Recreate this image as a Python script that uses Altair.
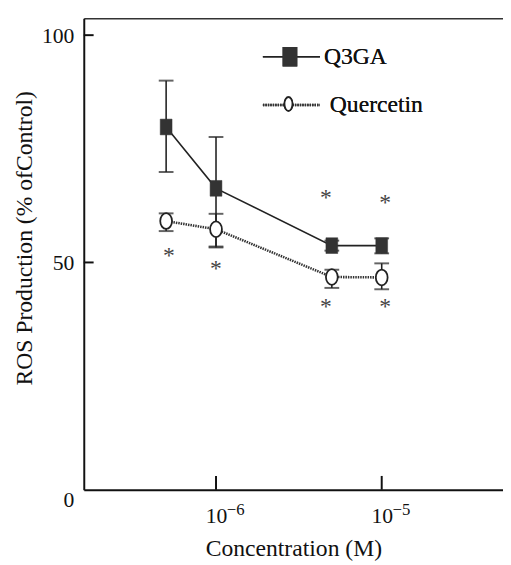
import altair as alt
import pandas as pd

# ---- data ----
series = ["Q3GA", "Quercetin"]
conc = [5e-7, 1e-6, 5e-6, 1e-5]
q3ga_mean = [79.8, 66.3, 53.7, 53.7]
q3ga_lo = [69.9, 53.3, 52.6, 52.0]
q3ga_hi = [90.0, 77.6, 54.8, 55.3]
quer_mean = [59.1, 57.3, 46.8, 46.7]
quer_lo = [56.9, 53.5, 44.4, 44.1]
quer_hi = [60.8, 60.7, 48.4, 49.8]
star_conc = [5.2e-7, 1.0e-6, 4.6e-6, 1.05e-5, 4.6e-6, 1.05e-5]
star_val = [52.8, 50.0, 41.6, 41.6, 65.6, 64.5]
x_ticks = [1e-6, 1e-5]
x_exps = ["\u22126", "\u22125"]
y_ticks = [0, 50, 100]

FONT = "Liberation Serif"
INK = "#222222"

q3 = pd.DataFrame({"conc": conc, "mean": q3ga_mean, "lo": q3ga_lo, "hi": q3ga_hi})
qu = pd.DataFrame({"conc": conc, "mean": quer_mean, "lo": quer_lo, "hi": quer_hi})
stars = pd.DataFrame({"conc": star_conc, "val": star_val})
xt = pd.DataFrame({"t": x_ticks, "e": x_exps})
yt = pd.DataFrame({"t": [v for v in y_ticks if v > 0]})

xscale = alt.Scale(type="log", domain=[1.592e-7, 5.395e-5], nice=False)
yscale = alt.Scale(domain=[0, 103.7], nice=False, zero=False)

yaxis = alt.Axis(
    values=y_ticks, ticks=False, grid=False, domainColor="#111", domainWidth=2,
    labelFont=FONT, labelFontSize=22, labelColor="#111", labelPadding=10,
    labelBaseline={"condition": {"test": "datum.value == 0", "value": "top"}, "value": "middle"},
    title="ROS Production (% ofControl)", titleFont=FONT, titleFontSize=24,
    titleFontWeight="normal", titleColor="#111", titleX=-60, titleY=223,
    titleAlign="center", titleBaseline="middle", titleAngle=270,
)
xaxis = alt.Axis(
    values=x_ticks, ticks=False, grid=False, domainColor="#111", domainWidth=2,
    labelExpr="'10'",
    labelFont=FONT, labelFontSize=22, labelColor="#111", labelPadding=16,
    labelAlign="center",
    title="Concentration (M)", titleFont=FONT, titleFontSize=24,
    titleFontWeight="normal", titleColor="#111", titleY=60, titleBaseline="middle",
)
topaxis = alt.Axis(orient="top", labels=False, ticks=False, grid=False, title=None,
                   domainColor="#333", domainWidth=1.5)


def X(field, axis=None):
    return alt.X(field, type="quantitative", scale=xscale, axis=axis)


def Y(field):
    return alt.Y(field, type="quantitative", scale=yscale, axis=yaxis)


rect_path = "M-0.75,-1H0.75V1H-0.75Z"
ell_path = "M0,-1A0.75,1 0 1,1 0,1A0.75,1 0 1,1 0,-1Z"
leg_rect_path = "M-0.72,-1H0.72V1H-0.72Z"
leg_ell_path = "M0,-1A0.58,1 0 1,1 0,1A0.58,1 0 1,1 0,-1Z"

layers = []
# frame: bottom axis + top border
layers.append(alt.Chart(q3).mark_point(opacity=0).encode(x=X("conc", xaxis), y=Y("mean")))
layers.append(alt.Chart(q3).mark_point(opacity=0).encode(x=X("conc", topaxis), y=Y("mean")))

for df in (q3, qu):
    layers.append(alt.Chart(df).mark_rule(color=INK, strokeWidth=1.6).encode(
        x=X("conc"), y=Y("lo"), y2="hi"))
    for f in ("lo", "hi"):
        layers.append(alt.Chart(df).mark_tick(color=INK, orient="horizontal", size=15,
                                              thickness=2).encode(x=X("conc"), y=Y(f)))

layers.append(alt.Chart(qu).mark_line(color="#333", strokeWidth=2.6, strokeDash=[1.5, 1]).encode(
    x=X("conc"), y=Y("mean")))
layers.append(alt.Chart(q3).mark_line(color=INK, strokeWidth=1.6).encode(
    x=X("conc"), y=Y("mean")))
layers.append(alt.Chart(q3).mark_point(shape=rect_path, size=256, filled=True, fill="#333",
                                       stroke="#333", strokeWidth=0.5, opacity=1).encode(
    x=X("conc"), y=Y("mean")))
layers.append(alt.Chart(qu).mark_point(shape=ell_path, size=256, filled=True, fill="white",
                                       stroke=INK, strokeWidth=1.8, opacity=1).encode(
    x=X("conc"), y=Y("mean")))

layers.append(alt.Chart(stars).mark_text(text="*", font=FONT, fontSize=24, fill="#444",
                                         baseline="middle", dy=7).encode(
    x=X("conc"), y=Y("val")))

# inward ticks
layers.append(alt.Chart(yt).mark_rule(color="#111", strokeWidth=2).encode(
    y=Y("t"), x=alt.value(0), x2=alt.value(10)))
layers.append(alt.Chart(xt).mark_rule(color="#111", strokeWidth=2).encode(
    x=X("t"), y=alt.value(479), y2=alt.value(465)))
# exponents of the x tick labels
layers.append(alt.Chart(xt).mark_text(font=FONT, fontSize=17, color="#111", align="left",
                                      baseline="middle", dx=11).encode(
    x=X("t"), y=alt.value(500), text="e:N"))

# legend
leg = pd.DataFrame({"s": series})
layers.append(alt.Chart(leg).mark_rule(color=INK, strokeWidth=1.6).encode(
    x=alt.value(182), x2=alt.value(240), y=alt.value(39)))
layers.append(alt.Chart(leg).mark_rule(color="#333", strokeWidth=2.6, strokeDash=[1.5, 1]).encode(
    x=alt.value(182), x2=alt.value(240), y=alt.value(88)))
layers.append(alt.Chart(leg).mark_point(shape=leg_rect_path, size=324, filled=True, fill="#333",
                                        stroke="#333", opacity=1).encode(
    x=alt.value(209.5), y=alt.value(39)))
layers.append(alt.Chart(leg).mark_point(shape=leg_ell_path, size=196, filled=True, fill="white",
                                        stroke=INK, strokeWidth=1.8, opacity=1).encode(
    x=alt.value(208), y=alt.value(87)))
layers.append(alt.Chart(leg).mark_text(text=series[0], font=FONT, fontSize=24, color="#111",
                                       align="left", baseline="middle").encode(
    x=alt.value(244), y=alt.value(39)))
layers.append(alt.Chart(leg).mark_text(text=series[1], font=FONT, fontSize=24, color="#111",
                                       align="left", baseline="middle").encode(
    x=alt.value(250), y=alt.value(88)))

chart = alt.layer(*layers).resolve_axis(x="independent").properties(
    width=426, height=479,
    padding={"left": 77, "top": 6, "right": 0, "bottom": 74},
    autosize="none",
).configure_view(stroke=None)

chart.save("out.html", embed_options={"renderer": "svg", "actions": False})
